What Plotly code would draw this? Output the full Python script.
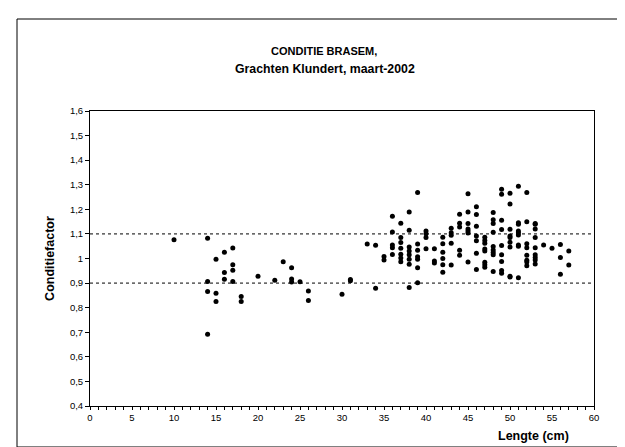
import plotly.graph_objects as go

# ---- data ----
lengte = (
    [10]
    + [14] * 4 + [15] * 3 + [16] * 3 + [17] * 4 + [18] * 2
    + [20, 22, 23] + [24] * 3 + [25] + [26] * 2 + [30] + [31] * 2
    + [33] + [34] * 2 + [35] * 2 + [36] * 5 + [37] * 7 + [38] * 8 + [39] * 7
    + [40] * 4 + [41] * 3 + [42] * 6 + [43] * 5 + [44] * 5 + [45] * 7
    + [46] * 7 + [47] * 8 + [48] * 9 + [49] * 9 + [50] * 9 + [51] * 9
    + [52] * 8 + [53] * 9 + [54, 55] + [56] * 3 + [57] * 2
)
conditiefactor = (
    [1.076]
    + [1.082, 0.906, 0.866, 0.692]
    + [0.997, 0.859, 0.825]
    + [1.025, 0.943, 0.916]
    + [1.043, 0.975, 0.952, 0.906]
    + [0.845, 0.825]
    + [0.928, 0.912, 0.987]
    + [0.962, 0.917, 0.904]
    + [0.905]
    + [0.868, 0.829]
    + [0.855]
    + [0.915, 0.909]
    + [1.059]
    + [1.054, 0.879]
    + [1.008, 0.994]
    + [1.172, 1.108, 1.055, 1.044, 1.016]
    + [1.143, 1.085, 1.065, 1.042, 1.017, 1.002, 0.987]
    + [1.189, 1.115, 1.047, 1.031, 1.015, 0.997, 0.977, 0.882]
    + [1.268, 1.059, 1.034, 1.007, 0.997, 0.962, 0.901]
    + [1.112, 1.101, 1.085, 1.040]
    + [1.040, 0.990, 0.982]
    + [1.086, 1.060, 1.025, 1.000, 0.975, 0.944]
    + [1.123, 1.105, 1.095, 1.062, 0.974]
    + [1.180, 1.143, 1.128, 1.034, 1.013]
    + [1.263, 1.189, 1.142, 1.120, 1.112, 1.104, 0.986]
    + [1.211, 1.179, 1.131, 1.092, 1.072, 1.021, 0.955]
    + [1.086, 1.073, 1.062, 1.039, 1.031, 0.985, 0.975, 0.964]
    + [1.187, 1.158, 1.142, 1.107, 1.049, 1.035, 1.024, 1.015, 0.947]
    + [1.282, 1.261, 1.156, 1.118, 1.053, 1.015, 0.988, 0.951, 0.940]
    + [1.265, 1.222, 1.119, 1.092, 1.085, 1.066, 1.047, 0.928, 0.925]
    + [1.294, 1.145, 1.139, 1.112, 1.105, 1.096, 1.055, 1.050, 0.922]
    + [1.268, 1.150, 1.060, 1.044, 1.013, 0.993, 0.986, 0.970]
    + [1.142, 1.139, 1.120, 1.085, 1.044, 1.015, 1.004, 0.994, 0.978]
    + [1.055, 1.042]
    + [1.057, 1.004, 0.936]
    + [1.030, 0.974]
)
referentielijnen = [1.1, 0.9]

title_lines = ["CONDITIE BRASEM,", "Grachten Klundert, maart-2002"]

FONT = "Liberation Sans, Arial, sans-serif"

fig = go.Figure()
fig.add_trace(go.Scatter(
    x=lengte, y=conditiefactor, mode="markers",
    marker=dict(color="black", size=5, line=dict(width=0)),
    showlegend=False, hoverinfo="x+y",
))

for yv in referentielijnen:
    fig.add_shape(type="line", xref="paper", yref="y", x0=0, x1=1, y0=yv, y1=yv,
                  line=dict(color="black", width=1, dash="dot"))

# outer chart frame
L, R, T, B = 82, 586, 103, 398
W, H = R - L, B - T
def px_x(p): return (p - L) / W
def px_y(p): return (B - p) / H
fig.add_shape(type="rect", xref="paper", yref="paper",
              x0=px_x(9), x1=px_x(616), y0=px_y(439), y1=px_y(11),
              line=dict(color="black", width=1), layer="below")

fig.add_annotation(text="<b>" + title_lines[0] + "</b>",
                   xref="paper", yref="paper", x=px_x(316), y=px_y(43),
                   showarrow=False, font=dict(family=FONT, size=11, color="black"),
                   xanchor="center", yanchor="middle")
fig.add_annotation(text="<b>" + title_lines[1] + "</b>",
                   xref="paper", yref="paper", x=px_x(317), y=px_y(61),
                   showarrow=False, font=dict(family=FONT, size=12.3, color="black"),
                   xanchor="center", yanchor="middle")
fig.add_annotation(text="<b>Lengte (cm)</b>", xref="paper", yref="paper",
                   x=px_x(525), y=px_y(428), showarrow=False,
                   font=dict(family=FONT, size=12.5, color="black"),
                   xanchor="center", yanchor="middle")

fig.update_layout(
    width=625, height=447,
    margin=dict(l=L, r=625 - R, t=T, b=447 - B, pad=0),
    paper_bgcolor="white", plot_bgcolor="white",
    separators=",.",
    font=dict(family=FONT, size=9.5, color="black"),
    xaxis=dict(range=[0, 60], dtick=5, tick0=0, showgrid=False, zeroline=False,
               showline=True, linecolor="black", linewidth=1, mirror=True,
               ticks="outside", ticklen=3, tickcolor="black", tickwidth=1,
               minor=dict(dtick=1, ticks="outside", ticklen=3, tickcolor="black", showgrid=False),
               tickfont=dict(family=FONT, size=9.5, color="black")),
    yaxis=dict(range=[0.4, 1.6], dtick=0.1, tick0=0.4, showgrid=False, zeroline=False,
               showline=True, linecolor="black", linewidth=1, mirror=True,
               ticks="outside", ticklen=4, tickcolor="black", tickwidth=1,
               tickfont=dict(family=FONT, size=9.5, color="black"),
               title=dict(text="<b>Conditiefactor</b>", font=dict(family=FONT, size=12.5, color="black"),
                          standoff=12)),
)

fig.write_html("out.html")
